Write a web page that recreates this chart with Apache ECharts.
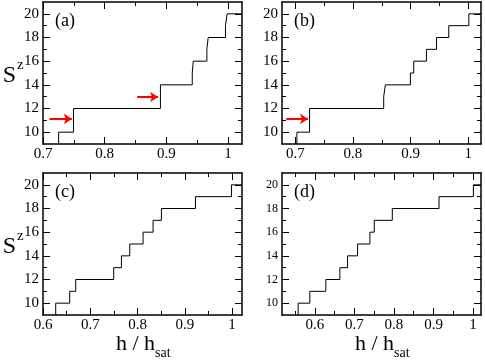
<!DOCTYPE html>
<html>
<head>
<meta charset="utf-8">
<script src="https://cdn.jsdelivr.net/npm/echarts@6/dist/echarts.min.js"></script>
<style>
  html, body { margin: 0; padding: 0; background: #fff; }
  #chart { width: 485px; height: 360px; }
</style>
</head>
<body>
<div id="chart"></div>
<script>
// Field (h / h_sat) at each magnetization jump, and the S^z reached after it
var fieldA = [0.7253, 0.7495, 0.8903, 0.9419, 0.9435, 0.9656, 0.9677, 0.9957, 0.9984];
var spinA  = [10, 12, 14, 15, 16, 17, 18, 19, 20];

var fieldB = [0.7028, 0.7248, 0.8533, 0.8562, 0.8996, 0.9054, 0.9274, 0.9448, 0.9661, 1.0009];
var spinB  = [10, 12, 13, 14, 15, 16, 17, 18, 19, 20];

var fieldC = [0.6269, 0.6565, 0.6692, 0.7496, 0.7659, 0.7835, 0.8117, 0.8329, 0.8505, 0.9225, 0.9987];
var spinC  = [10, 11, 12, 13, 14, 15, 16, 17, 18, 19, 20];

var fieldD = [0.5578, 0.5873, 0.6278, 0.6633, 0.6827, 0.708, 0.7392, 0.7502, 0.7958, 0.9139, 1.0008];
var spinD  = [10, 11, 12, 13, 14, 15, 16, 17, 18, 19, 20];

// Red arrows (start, end)
var arrowA1 = [[0.7107, 11.12], [0.7468, 11.12]];
var arrowA2 = [[0.8526, 12.97], [0.8865, 12.97]];
var arrowB1 = [[0.6843, 11.12], [0.722, 11.12]];

// Tick values
var xMajorA = [0.7, 0.8, 0.9, 1.0];
var xMinorA = [0.75, 0.85, 0.95];
var xMajorC = [0.6, 0.7, 0.8, 0.9, 1.0];
var xMinorC = [0.65, 0.75, 0.85, 0.95];
var xMinorD = [0.55, 0.65, 0.75, 0.85, 0.95];
var yMajor = [10, 12, 14, 16, 18, 20];
var yMinor = [11, 13, 15, 17, 19];

var serif = '"Liberation Serif", "Times New Roman", Times, Tinos, "Noto Serif", "DejaVu Serif", serif';

// Panel layout
var panels = [
  { name: '(a)', left: 43, top: 2, xMin: 0.7, xMax: 1.0225, field: fieldA, spin: spinA,
    xMajor: xMajorA, xMinor: xMinorA, yFont: 15, arrows: [arrowA1, arrowA2], yTitle: true },
  { name: '(b)', left: 282, top: 2, xMin: 0.677, xMax: 1.022, field: fieldB, spin: spinB,
    xMajor: xMajorA, xMinor: xMinorA, yFont: 15, arrows: [arrowB1] },
  { name: '(c)', left: 43, top: 173, xMin: 0.6, xMax: 1.021, field: fieldC, spin: spinC,
    xMajor: xMajorC, xMinor: xMinorC, yFont: 15, yTitle: true, xTitle: true },
  { name: '(d)', left: 282, top: 173, xMin: 0.517, xMax: 1.02, field: fieldD, spin: spinD,
    xMajor: xMajorC, xMinor: xMinorD, yFont: 12, xTitle: true }
];
var gridW = 199, gridH = 142;

function fmtX(v) {
  return String(Math.round(v * 100) / 100);
}

function axisSet(dim, p, g) {
  var isX = dim === 'x';
  var major = isX ? p.xMajor : yMajor;
  var minor = isX ? p.xMinor : yMinor;
  var pos = isX ? ['bottom', 'top'] : ['left', 'right'];
  var out = [];
  // main axes draw the frame and the long ticks
  pos.forEach(function(side, i) {
    out.push({
      type: 'value', gridIndex: g, position: side,
      min: isX ? p.xMin : 9, max: isX ? p.xMax : 21,
      splitLine: { show: false },
      axisLine: { show: true, onZero: false, lineStyle: { color: '#000', width: 1.5 } },
      axisTick: { show: true, inside: true, length: 7, customValues: major,
                  lineStyle: { color: '#000', width: 1 } },
      axisLabel: {
        show: i === 0, customValues: major, margin: isX ? 3 : 4,
        fontFamily: serif, fontSize: isX ? 15 : p.yFont, color: '#000',
        formatter: isX ? fmtX : null
      }
    });
  });
  // minor axes only add the short ticks
  pos.forEach(function(side) {
    out.push({
      type: 'value', gridIndex: g, position: side,
      min: isX ? p.xMin : 9, max: isX ? p.xMax : 21,
      splitLine: { show: false },
      axisLine: { show: false, onZero: false },
      axisTick: { show: true, inside: true, length: 4, customValues: minor,
                  lineStyle: { color: '#000', width: 1 } },
      axisLabel: { show: false }
    });
  });
  return out;
}

var grids = [], xAxes = [], yAxes = [], series = [], graphics = [];

panels.forEach(function(p, g) {
  grids.push({ left: p.left, top: p.top, width: gridW, height: gridH });
  xAxes = xAxes.concat(axisSet('x', p, g));
  yAxes = yAxes.concat(axisSet('y', p, g));

  // step line: start at the bottom edge, end at the right edge
  var pts = [[p.field[0], 9]];
  p.field.forEach(function(h, i) { pts.push([h, p.spin[i]]); });
  pts.push([p.xMax, p.spin[p.spin.length - 1]]);
  series.push({
    type: 'line', xAxisIndex: g * 4, yAxisIndex: g * 4, data: pts,
    step: 'end', symbol: 'none',
    lineStyle: { color: '#000', width: 1 }
  });

  if (p.arrows) {
    series.push({
      type: 'lines', coordinateSystem: 'cartesian2d', xAxisIndex: g * 4, yAxisIndex: g * 4,
      data: p.arrows.map(function(a) { return { coords: a }; }),
      symbol: ['none', 'arrow'], symbolSize: 8,
      lineStyle: { color: '#ff0000', width: 2, opacity: 1, curveness: 0 },
      z: 5
    });
  }

  // panel label
  graphics.push({
    type: 'text', x: p.left + 12, y: p.top + 19.5,
    style: { text: p.name, fontSize: 18, fontFamily: serif, fill: '#000', align: 'left', verticalAlign: 'middle' }
  });

  // S^z
  if (p.yTitle) {
    graphics.push({
      type: 'text', x: 16, y: p.top + 74,
      style: { text: 'S', fontSize: 24, fontFamily: serif, fill: '#000', align: 'right', verticalAlign: 'middle' }
    });
    graphics.push({
      type: 'text', x: 17, y: p.top + 63,
      style: { text: 'z', fontSize: 15, fontFamily: serif, fill: '#000', align: 'left', verticalAlign: 'middle' }
    });
  }

  // h / h_sat
  if (p.xTitle) {
    var mid = p.left + gridW / 2 + 12.5;
    graphics.push({
      type: 'text', x: mid, y: p.top + gridH + 29,
      style: { text: 'h / h', fontSize: 22, fontFamily: serif, fill: '#000', align: 'right', verticalAlign: 'middle' }
    });
    graphics.push({
      type: 'text', x: mid, y: p.top + gridH + 38.5,
      style: { text: 'sat', fontSize: 14, fontFamily: serif, fill: '#000', align: 'left', verticalAlign: 'middle' }
    });
  }
});

// Initialize echarts instance
var myChart = echarts.init(document.getElementById('chart'));

myChart.setOption({
  animation: false,
  backgroundColor: '#fff',
  grid: grids,
  xAxis: xAxes,
  yAxis: yAxes,
  series: series,
  graphic: graphics
});
</script>
</body>
</html>
